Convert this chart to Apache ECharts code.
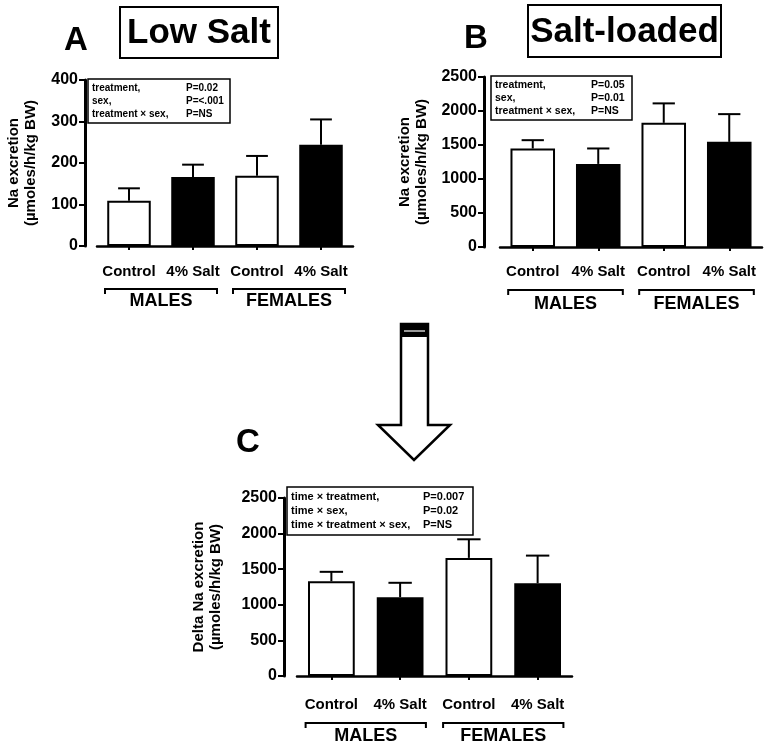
<!DOCTYPE html>
<html><head><meta charset="utf-8">
<script src="https://cdn.jsdelivr.net/npm/echarts/dist/echarts.min.js"></script>
<style>html,body{margin:0;padding:0;background:#fff}#c{width:768px;height:749px}</style>
</head><body><div id="c"></div>
<script>
// ---- data ----
const categories = ['Control', '4% Salt', 'Control', '4% Salt'];
const groups = ['MALES', 'FEMALES'];
const groupSpans = [[0, 1], [2, 3]];

const lowSaltMean = [109, 166, 169, 244];
const lowSaltErr = [30, 30, 48, 61];
const saltLoadedMean = [1449, 1222, 1826, 1546];
const saltLoadedErr = [122, 227, 286, 408];
const deltaMean = [1331, 1107, 1659, 1303];
const deltaErr = [132, 202, 261, 388];

const yMaxA = 400, yStepA = 100;
const yMaxB = 2500, yStepB = 500;
const yMaxC = 2500, yStepC = 500;

const statsA = [['treatment,', 'P=0.02'], ['sex,', 'P=<.001'], ['treatment \u00d7 sex,', 'P=NS']];
const statsB = [['treatment,', 'P=0.05'], ['sex,', 'P=0.01'], ['treatment \u00d7 sex,', 'P=NS']];
const statsC = [['time \u00d7 treatment,', 'P=0.007'], ['time \u00d7 sex,', 'P=0.02'], ['time \u00d7 treatment \u00d7 sex,', 'P=NS']];

const yNameA = 'Na excretion\n(\u00b5moles/h/kg BW)';
const yNameC = 'Delta Na excretion\n(\u00b5moles/h/kg BW)';

// ---- layout / style ----
const F = 'Liberation Sans, Arial, Helvetica, sans-serif';
const panels = [
  {grid: {left: 97, top: 80, width: 256, height: 166}, yOff: 12, xOff: 12, max: yMaxA, step: yStepA, name: yNameA, nameGap: 46,
   mean: lowSaltMean, err: lowSaltErr, bracketGap: 43, groupMargin: 46, labelMargin: 6},
  {grid: {left: 500, top: 77, width: 262, height: 170}, yOff: 16, xOff: 11, max: yMaxB, step: yStepB, name: yNameA, nameGap: 54,
   mean: saltLoadedMean, err: saltLoadedErr, bracketGap: 43, groupMargin: 48, labelMargin: 6},
  {grid: {left: 297, top: 498, width: 275, height: 178}, yOff: 13, xOff: 13, max: yMaxC, step: yStepC, name: yNameC, nameGap: 60,
   mean: deltaMean, err: deltaErr, bracketGap: 47, groupMargin: 51, labelMargin: 8}
];
const BAR_FRAC = 0.68;

const grids = [], xAxes = [], yAxes = [], series = [];
panels.forEach((p, gi) => {
  grids.push(Object.assign({outerBoundsMode: 'none', containLabel: false}, p.grid));
  yAxes.push({
    type: 'value', gridIndex: gi, min: 0, max: p.max, interval: p.step, offset: p.yOff,
    axisLine: {show: true, lineStyle: {color: '#000', width: 3}},
    axisTick: {show: true, length: 6, lineStyle: {color: '#000', width: 2}},
    axisLabel: {color: '#000', fontSize: 16, fontWeight: 'bold', fontFamily: F, margin: 7,
      formatter: v => String(v)},
    splitLine: {show: false},
    name: p.name, nameLocation: 'middle', nameRotate: 90, nameGap: p.nameGap,
    nameTextStyle: {color: '#000', fontSize: 15, fontWeight: 'bold', fontFamily: F, lineHeight: 17}
  });
  const xi = xAxes.length;
  xAxes.push({
    type: 'category', gridIndex: gi, data: categories, position: 'bottom', offset: p.xOff,
    axisLine: {show: true, lineStyle: {color: '#000', width: 2.5}},
    axisTick: {show: true, alignWithLabel: true, length: 4, lineStyle: {color: '#000', width: 2}},
    axisLabel: {color: '#000', fontSize: 15, fontWeight: 'bold', fontFamily: F, margin: p.labelMargin, interval: 0}
  });
  xAxes.push({
    type: 'category', gridIndex: gi, data: groups, position: 'bottom', offset: 0,
    axisLine: {show: false}, axisTick: {show: false},
    axisLabel: {color: '#000', fontSize: 18, fontWeight: 'bold', fontFamily: F, margin: p.groupMargin, interval: 0}
  });
  series.push({
    type: 'bar', xAxisIndex: xi, yAxisIndex: gi, barWidth: (BAR_FRAC * 100) + '%',
    data: p.mean.map((v, i) => ({
      value: v,
      itemStyle: {color: categories[i] === 'Control' ? '#fff' : '#000', borderColor: '#000', borderWidth: 2}
    })),
    z: 2, silent: true
  });
  series.push({
    type: 'custom', xAxisIndex: xi, yAxisIndex: gi, z: 3, clip: false, silent: true,
    data: p.mean.map((v, i) => [i, v, p.err[i]]),
    renderItem: function (params, api) {
      const x = api.value(0), v = api.value(1), e = api.value(2);
      const a = api.coord([x, v]), b = api.coord([x, v + e]);
      const hw = api.size([1, 0])[0] * BAR_FRAC * 0.25;
      return {type: 'group', children: [
        {type: 'line', shape: {x1: a[0], y1: a[1], x2: b[0], y2: b[1]}, style: {stroke: '#000', lineWidth: 2}},
        {type: 'line', shape: {x1: b[0] - hw, y1: b[1], x2: b[0] + hw, y2: b[1]}, style: {stroke: '#000', lineWidth: 2}}
      ]};
    }
  });
  const gap = p.bracketGap;
  series.push({
    type: 'custom', xAxisIndex: xi, yAxisIndex: gi, z: 3, clip: false, silent: true,
    data: groupSpans.map(s => [s[0], s[1]]),
    renderItem: function (params, api) {
      const s = api.value(0), e = api.value(1);
      const band = api.size([1, 0])[0];
      const l = api.coord([s, 0]), r = api.coord([e, 0]);
      const x1 = l[0] - band * 0.375, x2 = r[0] + band * 0.375, y = l[1] + gap;
      return {type: 'polyline', shape: {points: [[x1, y + 5], [x1, y], [x2, y], [x2, y + 5]]},
        style: {stroke: '#000', lineWidth: 2, fill: null}};
    }
  });
});

function statBox(x, y, w, h, rows, pX, fs, lh) {
  return {type: 'group', children: [
    {type: 'rect', shape: {x: x, y: y, width: w, height: h}, style: {fill: '#fff', stroke: '#000', lineWidth: 1.5}, z: 10},
    {type: 'text', x: x + 4, y: y + 3, z: 11, style: {text: rows.map(r => r[0]).join('\n'), font: 'bold ' + fs + 'px ' + F, fill: '#000', lineHeight: lh}},
    {type: 'text', x: pX, y: y + 3, z: 11, style: {text: rows.map(r => r[1]).join('\n'), font: 'bold ' + fs + 'px ' + F, fill: '#000', lineHeight: lh}}
  ]};
}
function letter(t, x, y) {
  return {type: 'text', x: x, y: y, style: {text: t, font: 'bold 33px ' + F, fill: '#000', align: 'center', verticalAlign: 'middle'}};
}
function boxedTitle(t, x, y, w, h) {
  return {type: 'group', children: [
    {type: 'rect', shape: {x: x, y: y, width: w, height: h}, style: {fill: '#fff', stroke: '#000', lineWidth: 2}},
    {type: 'text', x: x + w / 2, y: y + h / 2 + 1, style: {text: t, font: 'bold 35px ' + F, fill: '#000', align: 'center', verticalAlign: 'middle'}}
  ]};
}

const graphic = [
  letter('A', 76, 41), boxedTitle('Low Salt', 120, 7, 158, 51),
  letter('B', 476, 39), boxedTitle('Salt-loaded', 528, 5, 193, 52),
  letter('C', 248, 443),
  statBox(88, 79, 142, 44, statsA, 186, 10, 13),
  statBox(491, 76, 141, 44, statsB, 591, 10.5, 13),
  statBox(287, 487, 186, 48, statsC, 423, 11, 14),
  {type: 'polygon', shape: {points: [[401, 324], [428, 324], [428, 425], [450, 425], [414, 460], [378, 425], [401, 425]]},
   style: {fill: '#fff', stroke: '#000', lineWidth: 2.5}},
  {type: 'rect', shape: {x: 401, y: 324, width: 27, height: 13}, style: {fill: '#000'}},
  {type: 'line', shape: {x1: 404, y1: 331, x2: 425, y2: 331}, style: {stroke: '#fff', lineWidth: 1.2}}
];

const chart = echarts.init(document.getElementById('c'), null, {renderer: 'canvas'});
chart.setOption({
  backgroundColor: '#fff',
  animation: false,
  grid: grids, xAxis: xAxes, yAxis: yAxes, series: series, graphic: graphic
});
</script></body></html>
